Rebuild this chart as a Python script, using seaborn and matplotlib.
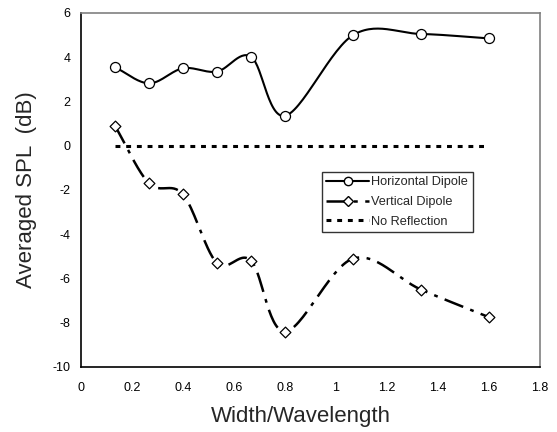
import numpy as np
import pandas as pd
import matplotlib
matplotlib.use("Agg")
import matplotlib.pyplot as plt
import seaborn as sns

width = [0.133, 0.267, 0.4, 0.533, 0.667, 0.8, 1.067, 1.333, 1.6]
horizontal = [3.55, 2.82, 3.5, 3.35, 4.02, 1.35, 5.0, 5.05, 4.85]
vertical = [0.9, -1.7, -2.2, -5.3, -5.2, -8.4, -5.1, -6.5, -7.75]
no_reflection = [0.0, 0.0]
no_refl_x = [0.133, 1.6]
xticks = [0, 0.2, 0.4, 0.6, 0.8, 1, 1.2, 1.4, 1.6, 1.8]
yticks = [-10, -8, -6, -4, -2, 0, 2, 4, 6]

sns.set_style("white")
plt.rcParams['font.family'] = ['Liberation Sans', 'DejaVu Sans']
plt.rcParams['axes.unicode_minus'] = False


def smooth(x, y, n=30):
    # Catmull-Rom style smoothing for rendering the curve (like Excel smoothed lines)
    x = np.asarray(x, float)
    y = np.asarray(y, float)
    P = np.column_stack([x, y])
    P = np.vstack([P[0] - (P[1] - P[0]), P, P[-1] + (P[-1] - P[-2])])
    out = []
    for i in range(1, len(P) - 2):
        p0, p1, p2, p3 = P[i - 1], P[i], P[i + 1], P[i + 2]
        b1 = p1 + (p2 - p0) / 6.0
        b2 = p2 - (p3 - p1) / 6.0
        t = np.linspace(0, 1, n, endpoint=(i == len(P) - 3))[:, None]
        seg = ((1 - t) ** 3) * p1 + 3 * ((1 - t) ** 2) * t * b1 + 3 * (1 - t) * t ** 2 * b2 + t ** 3 * p2
        out.append(seg)
    out = np.vstack(out)
    return out[:, 0], out[:, 1]


fig = plt.figure(figsize=(5.57, 4.32), dpi=100)
ax = fig.add_axes([0.1454, 0.1505, 0.8241, 0.8195])

hx, hy = smooth(width, horizontal)
vx, vy = smooth(width, vertical)

sns.lineplot(x=hx, y=hy, ax=ax, color='black', lw=1.5, sort=False, estimator=None)
sns.lineplot(x=vx, y=vy, ax=ax, color='black', lw=1.8, sort=False, estimator=None,
             dashes=False)
ax.lines[-1].set_dashes([8, 3, 1.5, 3])
sns.lineplot(x=no_refl_x, y=no_reflection, ax=ax, color='black', lw=2.2, estimator=None)
ax.lines[-1].set_dashes([1.6, 1.9])

sns.scatterplot(x=width, y=horizontal, ax=ax, marker='o', s=52, facecolor='white',
                edgecolor='black', linewidth=0.9, zorder=5)
sns.scatterplot(x=width, y=vertical, ax=ax, marker='D', s=30, facecolor='white',
                edgecolor='black', linewidth=0.9, zorder=5)

ax.set_xlim(0, 1.8)
ax.set_ylim(-10, 6)
ax.set_xticks(xticks)
ax.set_xticklabels([f"{t:g}" for t in xticks])
ax.set_yticks(yticks)
ax.tick_params(axis='both', labelsize=9, direction='out', length=4, width=1, colors='black')
ax.tick_params(axis='x', direction='inout', length=5, pad=8)
for s in ['left', 'bottom']:
    ax.spines[s].set_color('black')
    ax.spines[s].set_linewidth(1.2)
for s in ['top', 'right']:
    ax.spines[s].set_color('#808080')
    ax.spines[s].set_linewidth(1.2)

ax.set_xlabel('Width/Wavelength', fontsize=16)
ax.xaxis.set_label_coords(0.48, -0.11, transform=ax.transAxes)
ax.xaxis.label.set_va('top')
ax.set_ylabel('Averaged SPL  (dB)', fontsize=16, labelpad=11)

from matplotlib.lines import Line2D
h1 = Line2D([], [], color='black', lw=1.5, marker='o', markersize=6, markerfacecolor='white')
h2 = Line2D([], [], color='black', lw=1.8, marker='D', markersize=5, markerfacecolor='white',
            dashes=[8, 3, 1.5, 3])
h3 = Line2D([], [], color='black', lw=2.2, dashes=[1.6, 1.9])
leg = ax.legend([h1, h2, h3], ['Horizontal Dipole', 'Vertical Dipole', 'No Reflection'],
                loc='upper left', bbox_to_anchor=(0.525, 0.551), fontsize=9.2, frameon=True,
                fancybox=False, edgecolor='black', handlelength=3.3, handletextpad=0.2,
                borderpad=0.35, labelspacing=0.6, borderaxespad=0)
leg.get_frame().set_linewidth(1.0)

fig.savefig('out.png', dpi=100)
